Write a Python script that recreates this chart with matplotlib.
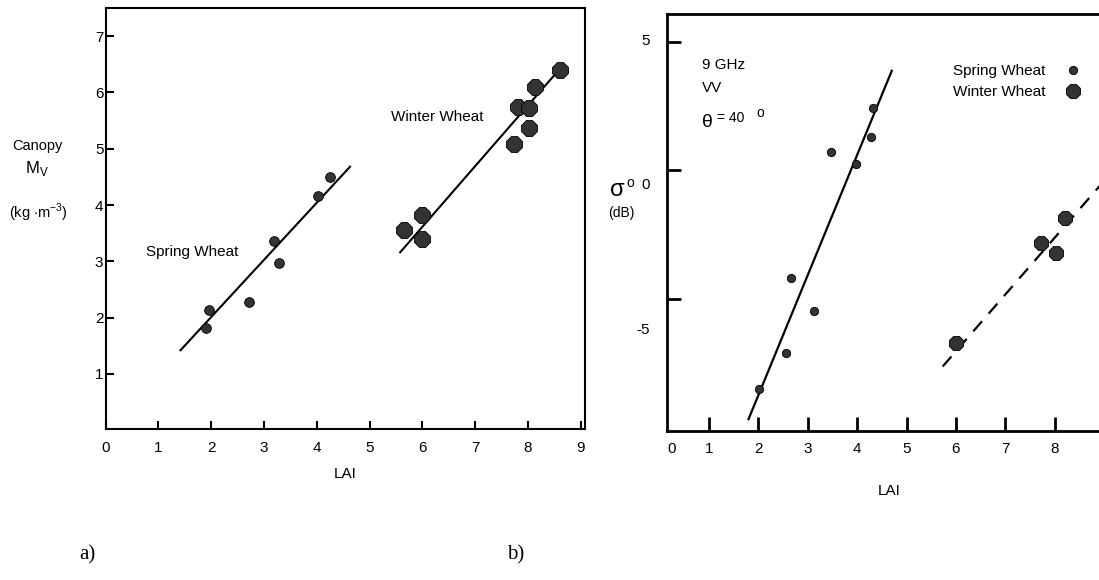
import matplotlib
matplotlib.use("Agg")
import matplotlib.pyplot as plt

# panel a) canopy moisture vs LAI
lai_spring_a = [1.91, 1.96, 2.71, 3.19, 3.29, 4.02, 4.26]
mv_spring = [1.81, 2.13, 2.28, 3.36, 2.97, 4.16, 4.50]
lai_winter_a = [5.66, 5.99, 5.99, 7.74, 7.81, 8.02, 8.02, 8.13, 8.60]
mv_winter = [3.55, 3.82, 3.40, 5.08, 5.74, 5.73, 5.36, 6.10, 6.39]
fit_spring_a_x = [1.42, 4.63]
fit_spring_a_y = [1.42, 4.68]
fit_winter_a_x = [5.58, 8.66]
fit_winter_a_y = [3.16, 6.48]

# panel b) backscatter vs LAI
lai_spring_b = [2.01, 2.55, 2.67, 3.13, 3.47, 3.97, 4.27, 4.31]
sig_spring = [-8.51, -7.09, -4.19, -5.47, 0.73, 0.24, 1.32, 2.42]
lai_winter_b = [6.01, 7.73, 8.02, 8.21]
sig_winter = [-6.72, -2.83, -3.22, -1.86]
fit_spring_b_x = [1.80, 4.70]
fit_spring_b_y = [-9.68, 3.88]
fit_winter_b_x = [5.73, 9.20]
fit_winter_b_y = [-7.63, 0.04]

xticks = list(range(10))
yticks_a = [1, 2, 3, 4, 5, 6, 7]

plt.rcParams['font.family'] = ['Liberation Sans', 'DejaVu Sans']
plt.rcParams['font.size'] = 11
plt.rcParams['mathtext.fontset'] = 'custom'
plt.rcParams['mathtext.rm'] = 'Liberation Sans'

mk = '#333333'
W, H = 1099, 580
fig = plt.figure(figsize=(W / 100, H / 100), dpi=100)

# ---- a)
ax1 = fig.add_axes([105.5 / W, 1 - 428.5 / H, 479.5 / W, 420.5 / H])
ax1.plot(fit_spring_a_x, fit_spring_a_y, color='black', lw=1.5)
ax1.plot(fit_winter_a_x, fit_winter_a_y, color='black', lw=1.5)
ax1.plot(lai_spring_a, mv_spring, 'o', color=mk, ms=7, mec='black', mew=0.6)
ax1.plot(lai_winter_a, mv_winter, '8', color=mk, ms=12, mec='black', mew=0.6)
ax1.set_xlim(0.01, 9.08)
ax1.set_ylim(0.03, 7.5)
ax1.set_xticks(xticks)
ax1.set_yticks(yticks_a)
ax1.tick_params(direction='in', length=6, width=1.5)
ax1.tick_params(axis='x', pad=9)
ax1.tick_params(axis='y', pad=1.5)
for s in ax1.spines.values():
    s.set_linewidth(1.5)
ax1.set_xlabel('LAI', labelpad=9)
ax1.text(0.76, 3.17, 'Spring Wheat', ha='left', va='center')
ax1.text(5.40, 5.56, 'Winter Wheat', ha='left', va='center')

fig.text(37.5 / W, 1 - 146 / H, 'Canopy', ha='center', va='center', fontsize=10.5)
fig.text(37 / W, 1 - 168 / H, r'M$_{\mathrm{V}}$', ha='center', va='center', fontsize=12)
fig.text(38 / W, 1 - 213 / H, r'(kg $\cdot$m$^{-3}$)', ha='center', va='center', fontsize=10.5)

# ---- b)
ax2 = fig.add_axes([667 / W, 1 - 431 / H, 444.6 / W, 417 / H])
ax2.plot(fit_spring_b_x, fit_spring_b_y, color='black', lw=1.6)
ax2.plot(fit_winter_b_x, fit_winter_b_y, color='black', lw=1.6, ls=(0, (6, 4.5)))
sp, = ax2.plot(lai_spring_b, sig_spring, 'o', color=mk, ms=6, mec='black', mew=0.6)
wi, = ax2.plot(lai_winter_b, sig_winter, '8', color=mk, ms=11, mec='black', mew=0.6)
ax2.set_xlim(0.15, 9.15)
ax2.set_ylim(-10.14, 6.09)
ax2.set_xticks(xticks[1:])
ax2.set_xticks([0.245], minor=True)
ax2.set_xticklabels(['0'], minor=True)
ax2.set_yticks([-5, 0, 5])
ax2.set_yticks([-6.14, -0.5, 5.08], minor=True)
ax2.set_yticklabels(['-5', '0', '5'], minor=True)
ax2.tick_params(which='major', direction='in', length=10, width=2)
ax2.tick_params(axis='y', which='major', labelleft=False)
ax2.tick_params(which='minor', length=0)
ax2.tick_params(axis='x', which='both', pad=8)
ax2.tick_params(axis='y', which='minor', pad=12)
for s in ax2.spines.values():
    s.set_linewidth(2)
ax2.set_xlabel('LAI', labelpad=20)

ax2.text(0.86, 4.1, '9 GHz', ha='left', va='center')
ax2.text(0.86, 3.21, 'VV', ha='left', va='center')
ax2.text(0.86, 1.85, 'θ', ha='left', va='center', fontsize=14)
ax2.text(1.17, 2.05, '= 40', ha='left', va='center', fontsize=10)
ax2.text(2.03, 2.24, 'o', ha='center', va='center', fontsize=10)

fig.text(617 / W, 1 - 190 / H, 'σ', ha='center', va='center', fontsize=17)
fig.text(630 / W, 1 - 183 / H, 'o', ha='center', va='center', fontsize=10)
fig.text(621 / W, 1 - 213 / H, '(dB)', ha='center', va='center', fontsize=10)

ax2.legend([sp, wi], ['Spring Wheat', 'Winter Wheat'], markerfirst=False,
           frameon=False, loc='upper left', bbox_to_anchor=(953 / W, 1 - 64 / H),
           bbox_transform=fig.transFigure, borderpad=0, borderaxespad=0,
           handlelength=1.6, handletextpad=1.0, labelspacing=0.45, fontsize=11)

fig.text(87 / W, 1 - 555 / H, 'a)', ha='center', va='center', fontsize=15,
         family='Liberation Serif')
fig.text(516 / W, 1 - 555 / H, 'b)', ha='center', va='center', fontsize=15,
         family='Liberation Serif')

fig.savefig('out.png', dpi=100)
